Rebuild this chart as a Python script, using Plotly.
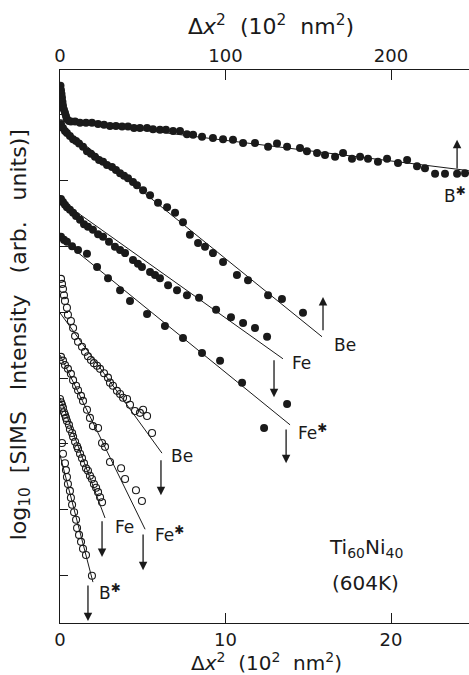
import plotly.graph_objects as go

# ---- data (x in 10^2 nm^2 on bottom scale; B* filled uses top scale) ----
# y: log10 SIMS intensity, arbitrary offset units
bstar_f_x = [0.3, 0.6, 0.9, 1.2, 1.5, 1.8, 2.4, 3.0, 3.6, 4.2, 5.4, 6.6, 9.1, 12.1, 15.7, 19.3,
             23.0, 26.6, 30.2, 33.8, 37.5, 41.1, 44.7, 48.3, 52.6, 56.2, 60.4, 64.0, 68.3, 72.5,
             76.7, 80.4, 85.8, 92.4, 98.5, 104.5, 110.6, 117.8, 125.7, 131.1, 137.2, 145.0,
             149.2, 155.3, 160.1, 166.2, 171.0, 176.4, 181.3, 186.1, 192.1, 197.6, 204.2,
             209.7, 215.7, 220.5, 226.6, 232.6, 239.9, 244.7]
bstar_f_y = [8.54, 8.47, 8.41, 8.35, 8.28, 8.22, 8.16, 8.11, 8.06, 8.01, 7.98, 7.97, 7.97, 7.95,
             7.95, 7.95, 7.93, 7.92, 7.90, 7.90, 7.89, 7.89, 7.87, 7.87, 7.87, 7.85, 7.84, 7.84,
             7.82, 7.82, 7.77, 7.76, 7.73, 7.71, 7.69, 7.68, 7.63, 7.63, 7.57, 7.62, 7.57, 7.55,
             7.50, 7.47, 7.44, 7.41, 7.47, 7.38, 7.41, 7.38, 7.33, 7.38, 7.31, 7.36, 7.26, 7.23,
             7.14, 7.14, 7.14, 7.15]
bstar_f_fit_x = [0.0, 247.0]
bstar_f_fit_y = [8.00, 7.19]

be_f_x = [0.06, 0.18, 0.30, 0.42, 0.60, 0.79, 0.97, 1.15, 1.39, 1.63, 1.87, 2.11, 2.36, 2.60,
          2.84, 3.14, 3.38, 3.63, 3.87, 4.11, 4.41, 4.65, 5.02, 5.44, 5.92, 6.47, 6.95, 7.43,
          7.85, 8.34, 8.76, 9.24, 9.85, 10.69, 11.36, 12.57, 13.41, 14.68]
be_f_y = [7.93, 7.87, 7.82, 7.79, 7.74, 7.69, 7.66, 7.62, 7.57, 7.50, 7.46, 7.41, 7.36, 7.33,
          7.28, 7.25, 7.20, 7.15, 7.11, 7.07, 7.01, 6.96, 6.88, 6.80, 6.68, 6.61, 6.52, 6.37,
          6.17, 6.04, 5.98, 5.88, 5.74, 5.53, 5.45, 5.21, 5.15, 4.93]
be_f_fit_x = [0.0, 15.83]
be_f_fit_y = [7.92, 4.55]

fe_f_x = [0.06, 0.18, 0.30, 0.42, 0.60, 0.79, 0.97, 1.21, 1.45, 1.69, 1.99, 2.30, 2.60, 2.96,
          3.32, 3.63, 3.93, 4.41, 4.71, 4.95, 5.44, 5.74, 6.04, 6.53, 7.07, 7.67, 8.40, 9.43,
          10.33, 11.06, 11.78, 12.51]
fe_f_y = [6.74, 6.69, 6.65, 6.61, 6.57, 6.52, 6.47, 6.41, 6.34, 6.30, 6.25, 6.18, 6.14, 6.06,
          5.98, 5.93, 5.88, 5.77, 5.71, 5.66, 5.58, 5.53, 5.48, 5.37, 5.29, 5.21, 5.17, 4.98,
          4.86, 4.77, 4.69, 4.55]
fe_f_fit_x = [0.0, 13.47]
fe_f_fit_y = [6.72, 4.20]

fes_f_x = [0.06, 0.24, 0.42, 0.73, 1.09, 1.63, 2.24, 2.90, 3.63, 4.23, 5.26, 6.34, 7.43, 8.58,
           9.67, 11.00, 13.72, 12.33]
fes_f_y = [6.14, 6.09, 6.06, 5.99, 5.93, 5.87, 5.66, 5.48, 5.29, 5.12, 4.91, 4.72, 4.53, 4.29,
           4.17, 3.82, 3.48, 3.10]
fes_f_fit_x = [0.0, 13.90]
fes_f_fit_y = [6.12, 3.15]

be_o_x = [0.06, 0.12, 0.18, 0.24, 0.30, 0.42, 0.48, 0.66, 0.79, 0.91, 1.09, 1.33, 1.51, 1.69,
          1.87, 2.05, 2.24, 2.42, 2.66, 2.90, 3.02, 3.20, 3.44, 3.63, 3.81, 4.05, 4.23, 4.53,
          4.83, 5.02, 5.26, 5.56]
be_o_y = [5.47, 5.39, 5.31, 5.21, 5.12, 5.01, 4.90, 4.80, 4.69, 4.56, 4.47, 4.39, 4.31, 4.24,
          4.18, 4.13, 4.09, 4.04, 3.97, 3.90, 3.82, 3.77, 3.69, 3.64, 3.58, 3.56, 3.47, 3.37,
          3.34, 3.39, 3.29, 3.02]
be_o_fit_x = [0.0, 6.16]
be_o_fit_y = [4.93, 2.70]

fes_o_x = [0.06, 0.18, 0.30, 0.48, 0.66, 0.79, 0.97, 1.09, 1.27, 1.39, 1.63, 1.81, 1.99, 2.30,
           2.54, 2.72, 3.02, 3.69, 3.93, 4.59, 4.95]
fes_o_y = [4.23, 4.17, 4.10, 4.04, 3.96, 3.86, 3.77, 3.70, 3.61, 3.53, 3.39, 3.26, 3.13, 3.10,
           2.86, 2.80, 2.56, 2.46, 2.29, 2.11, 1.94]
fes_o_fit_x = [0.0, 5.14]
fes_o_fit_y = [4.26, 1.49]

fe_o_x = [0.00, 0.06, 0.12, 0.18, 0.24, 0.30, 0.36, 0.42, 0.54, 0.60, 0.73, 0.79, 0.91, 1.03,
          1.09, 1.21, 1.33, 1.45, 1.57, 1.69, 1.81, 1.93, 2.05, 2.18, 2.30, 2.42, 2.54]
fe_o_y = [3.56, 3.51, 3.47, 3.42, 3.35, 3.31, 3.26, 3.21, 3.15, 3.08, 3.02, 2.96, 2.88, 2.81,
          2.77, 2.69, 2.62, 2.54, 2.46, 2.42, 2.34, 2.29, 2.21, 2.15, 2.08, 2.00, 1.92]
fe_o_fit_x = [0.0, 2.72]
fe_o_fit_y = [3.58, 1.67]

bs_o_x = [0.12, 0.18, 0.30, 0.36, 0.42, 0.48, 0.60, 0.66, 0.73, 0.85, 0.97, 1.03, 1.15, 1.27,
          1.39, 1.57, 1.93]
bs_o_y = [2.86, 2.69, 2.54, 2.43, 2.32, 2.21, 2.10, 1.99, 1.88, 1.76, 1.64, 1.51, 1.40, 1.29,
          1.18, 1.08, 0.75]
bs_o_fit_x = [0.0, 1.99]
bs_o_fit_y = [2.67, 0.65]

# arrows: (x, tail y, head y)
arrows = [(23.99, 7.20, 7.68), (15.89, 4.63, 5.18), (12.93, 4.20, 3.59), (13.66, 3.10, 2.54),
          (6.10, 2.61, 2.03), (2.54, 1.64, 1.05), (5.02, 1.43, 0.84), (1.69, 0.62, 0.03)]
# labels: (x, y, text)
labels = [(23.85, 6.80, "B<sup>✱</sup>"), (17.2, 4.42, "Be"), (14.6, 4.13, "Fe"),
          (15.25, 3.04, "Fe<sup>✱</sup>"), (7.35, 2.65, "Be"), (3.9, 1.53, "Fe"),
          (6.6, 1.41, "Fe<sup>✱</sup>"), (3.05, 0.49, "B<sup>✱</sup>")]

ytick_vals = [0.75, 1.80, 2.85, 3.89, 4.94, 5.99, 7.04, 8.09]
x_bottom_ticks = [0, 10, 20]
x_top_ticks = [0, 100, 200]

FONT = "DejaVu Sans ExtraLight, DejaVu Sans"
INK = "#1a1a1a"
SP = "\u00a0"
XTITLE = f"Δ<i>x</i><sup>2</sup>{SP}{SP}(10<sup>2</sup>{SP}{SP}nm<sup>2</sup>)"
YTITLE = (f"log<sub>10</sub>{SP}{SP}[SIMS{SP}{SP}{SP}Intensity{SP}{SP}{SP}(arb."
          f"{SP}{SP}{SP}units)]")

fig = go.Figure()


def add_series(xs, ys, fx, fy, filled, top=False):
    kw = dict(xaxis="x2") if top else {}
    fig.add_trace(go.Scatter(x=fx, y=fy, mode="lines", line=dict(color=INK, width=1),
                             showlegend=False, hoverinfo="skip", **kw))
    if filled:
        marker = dict(symbol="circle", size=8, color=INK, line=dict(width=0))
    else:
        marker = dict(symbol="circle-open", size=7, color=INK, line=dict(width=1.1))
    fig.add_trace(go.Scatter(x=xs, y=ys, mode="markers", marker=marker,
                             showlegend=False, **kw))


add_series(bstar_f_x, bstar_f_y, bstar_f_fit_x, bstar_f_fit_y, True, top=True)
add_series(be_f_x, be_f_y, be_f_fit_x, be_f_fit_y, True)
add_series(fe_f_x, fe_f_y, fe_f_fit_x, fe_f_fit_y, True)
add_series(fes_f_x, fes_f_y, fes_f_fit_x, fes_f_fit_y, True)
add_series(be_o_x, be_o_y, be_o_fit_x, be_o_fit_y, False)
add_series(fes_o_x, fes_o_y, fes_o_fit_x, fes_o_fit_y, False)
add_series(fe_o_x, fe_o_y, fe_o_fit_x, fe_o_fit_y, False)
add_series(bs_o_x, bs_o_y, bs_o_fit_x, bs_o_fit_y, False)

ann = []
for x, y0, y1 in arrows:
    ann.append(dict(x=x, y=y1, ax=x, ay=y0, xref="x", yref="y", axref="x", ayref="y",
                    text="", showarrow=True, arrowhead=2, arrowsize=1.3, arrowwidth=1.3,
                    arrowcolor=INK))
for x, y, t in labels:
    ann.append(dict(x=x, y=y, xref="x", yref="y", text=t, showarrow=False,
                    xanchor="center", yanchor="middle",
                    font=dict(family=FONT, size=17, color=INK)))


def paper_text(x, y, text, size, angle=0):
    return dict(x=x, y=y, xref="paper", yref="paper", text=text, showarrow=False,
                xanchor="center", yanchor="middle", textangle=angle,
                font=dict(family=FONT, size=size, color=INK))


ann.append(paper_text(0.748, 0.136, "Ti<sub>60</sub>Ni<sub>40</sub>", 20))
ann.append(paper_text(0.748, 0.072, "(604K)", 20))
ann.append(paper_text(0.516, 1.0814, XTITLE, 22))
ann.append(paper_text(0.506, -0.0705, XTITLE, 20))
ann.append(paper_text(-0.098, 0.522, YTITLE, 22, -90))

axis_common = dict(ticks="inside", ticklen=10, tickcolor=INK, tickwidth=1, showline=True,
                   linecolor=INK, linewidth=1.2, showgrid=False, zeroline=False,
                   automargin=False, tickfont=dict(size=18, family=FONT, color=INK))

fig.update_layout(
    width=469, height=675,
    margin=dict(l=60, r=0, t=70, b=52),
    paper_bgcolor="white", plot_bgcolor="white",
    font=dict(family=FONT, size=18, color=INK),
    annotations=ann,
    xaxis=dict(range=[0, 24.71], tickvals=x_bottom_ticks, **axis_common),
    xaxis2=dict(range=[0, 247.1], overlaying="x", side="top", tickvals=x_top_ticks,
                **axis_common),
    yaxis=dict(range=[0, 8.79], tickvals=ytick_vals, ticktext=[""] * len(ytick_vals),
               ticks="inside", ticklen=8, tickcolor=INK, showline=True, linecolor=INK,
               linewidth=1.2, showgrid=False, zeroline=False, automargin=False),
)

fig.write_html("out.html", post_script="document.body.style.margin='0';",
               config={"displayModeBar": False})
